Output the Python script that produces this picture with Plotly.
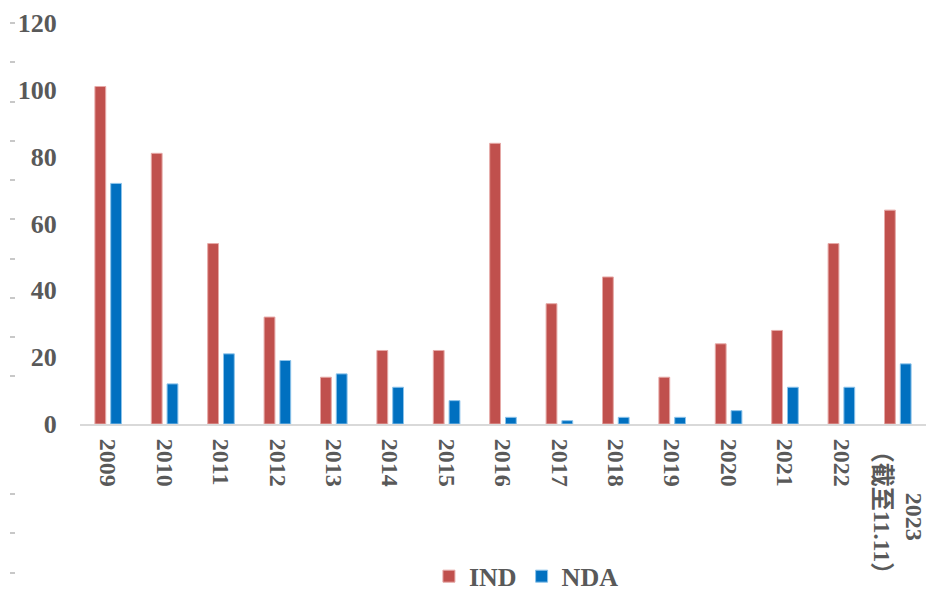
import plotly.graph_objects as go

categories = ["2009", "2010", "2011", "2012", "2013", "2014", "2015", "2016",
              "2017", "2018", "2019", "2020", "2021", "2022", "2023（截至11.11）"]
x_tick_text = ["2009", "2010", "2011", "2012", "2013", "2014", "2015", "2016",
               "2017", "2018", "2019", "2020", "2021", "2022",
               "\u00a0" * 9 + "2023<br>（截至11.11）"]
ind_values = [101, 81, 54, 32, 14, 22, 22, 84, 36, 44, 14, 24, 28, 54, 64]
nda_values = [72, 12, 21, 19, 15, 11, 7, 2, 1, 2, 2, 4, 11, 11, 18]
y_tick_vals = [0, 20, 40, 60, 80, 100, 120]
minor_dash_vals = [0, 1, 2, 5, 6, 7, 8, 9, 10, 11, 12, 13, 14]

W, H = 926, 595
FONT = "Liberation Serif, Times New Roman, Noto Sans CJK SC, serif"
GREY = "#595959"


def bold(s):
    return "<b>" + s + "</b>"


fig = go.Figure()
fig.add_trace(go.Bar(name=bold("IND"), x=categories, y=ind_values,
                     marker=dict(color="#C0504D", line=dict(color="#E6A9A7", width=1))))
fig.add_trace(go.Bar(name=bold("NDA"), x=categories, y=nda_values,
                     marker=dict(color="#0070C0", line=dict(color="#8CC3EA", width=1))))
# invisible carrier trace for the decorative minor-dash axis on the far left
fig.add_trace(go.Scatter(x=[0], y=[0], xaxis="x2", yaxis="y2", mode="markers",
                         marker=dict(opacity=0), showlegend=False, hoverinfo="skip"))

fig.update_layout(
    width=W, height=H,
    margin=dict(l=0, r=0, t=0, b=0, autoexpand=False),
    paper_bgcolor="white", plot_bgcolor="white",
    barmode="group", bargap=0.44, bargroupgap=0.315,
    font=dict(family=FONT, color=GREY, size=24),
    xaxis=dict(domain=[80 / W, 1], showgrid=False, showline=True, linecolor="#d9d9d9",
               linewidth=2, ticks="outside", ticklen=8, tickcolor="rgba(0,0,0,0)",
               tickangle=90, tickvals=categories, ticktext=[bold(t) for t in x_tick_text],
               tickfont=dict(family=FONT, size=24, color=GREY),
               automargin=False),
    yaxis=dict(domain=[(H - 424) / H, (H - 23) / H], range=[0, 120], tickvals=y_tick_vals,
               ticktext=[bold(str(v)) for v in y_tick_vals],
               showgrid=False, zeroline=False, showline=False, ticks="outside", ticklen=17,
               tickcolor="rgba(0,0,0,0)", automargin=False,
               tickfont=dict(family=FONT, size=26, color=GREY)),
    xaxis2=dict(domain=[0, 9 / W], anchor="y2", visible=False, range=[-1, 1],
                automargin=False),
    yaxis2=dict(domain=[(H - 572.5) / H, (H - 23) / H], range=[0, 14], anchor="x2",
                side="right", tickvals=minor_dash_vals, ticks="outside", ticklen=5,
                tickwidth=1.5, tickcolor="#c8c8c8", showticklabels=False, showgrid=False,
                zeroline=False, showline=False, automargin=False),
    legend=dict(orientation="h", x=0.5685, xanchor="center", y=-0.008, yanchor="bottom",
                font=dict(family=FONT, size=26, color=GREY),
                itemwidth=30, traceorder="normal"),
)

fig.write_html("out.html", config={"displayModeBar": False},
               post_script="document.body.style.margin='0';")
